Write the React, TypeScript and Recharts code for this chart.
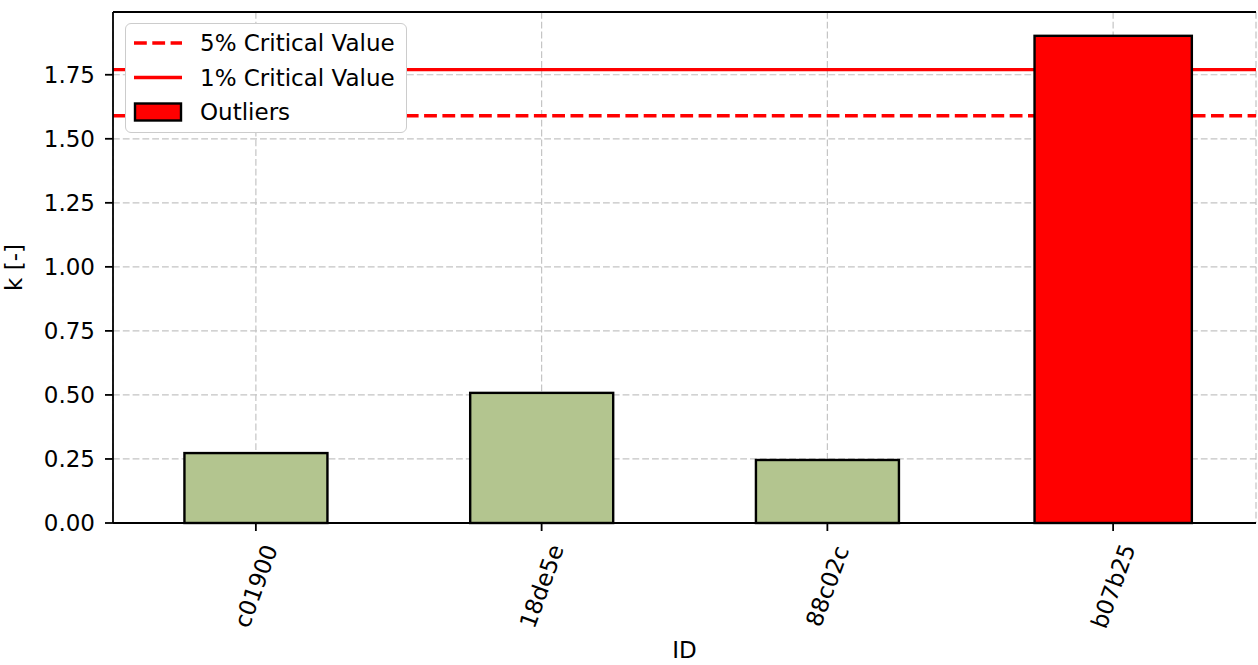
import { BarChart, Bar, XAxis, YAxis, CartesianGrid, ReferenceLine } from "recharts";

const ids = ["c01900", "18de5e", "88c02c", "b07b25"];
const kValues = [0.273, 0.508, 0.246, 1.902];
const isOutlier = [false, false, false, true];
const yTicks = [0, 0.25, 0.5, 0.75, 1.0, 1.25, 1.5, 1.75];
const yMax = 1.995;
const critical5 = 1.59;
const critical1 = 1.77;

const GREEN = "#b3c58f";
const RED = "#ff0000";
const FONT = "'DejaVu Sans', Verdana, sans-serif";
const FS = 23;

const data = ids.map((id, i) => ({ id, k: kValues[i], outlier: isOutlier[i] }));

// outliers are drawn a bit wider (0.55 vs 0.5 of the slot), like the original plot
const BarShape = (props: any) => {
  const { x, y, width, height, payload } = props;
  const w = payload.outlier ? width * 1.1 : width;
  const cx = x + width / 2;
  return (
    <rect
      x={cx - w / 2}
      y={y}
      width={w}
      height={height}
      fill={payload.outlier ? RED : GREEN}
      stroke="#000"
      strokeWidth={2.4}
    />
  );
};

const IdTick = ({ x, y, payload }: any) => {
  const label = String(payload.value);
  const w = label.length * 0.62 * FS;
  const ext = w * Math.sin((70 * Math.PI) / 180) + FS * 0.75 * Math.cos((70 * Math.PI) / 180);
  const cy = y + 6 + ext / 2;
  return (
    <text
      x={x}
      y={cy}
      transform={`rotate(-70 ${x} ${cy})`}
      textAnchor="middle"
      dominantBaseline="central"
      fill="#000"
      fontSize={FS}
      fontFamily={FONT}
    >
      {label}
    </text>
  );
};

const YLabel = ({ viewBox }: any) => {
  const cy = viewBox.y + viewBox.height / 2;
  return (
    <text x={22} y={cy} transform={`rotate(-90 22 ${cy})`} textAnchor="middle" fill="#000" fontSize={FS} fontFamily={FONT}>
      k [-]
    </text>
  );
};

const XLabel = ({ viewBox }: any) => (
  <text x={viewBox.x + viewBox.width / 2} y={658} textAnchor="middle" fill="#000" fontSize={FS} fontFamily={FONT}>
    ID
  </text>
);

const legendItems = [
  { label: "5% Critical Value", kind: "dashed" },
  { label: "1% Critical Value", kind: "solid" },
  { label: "Outliers", kind: "patch" },
];

function LegendBox() {
  return (
    <div
      style={{
        position: "absolute",
        left: 125,
        top: 23,
        width: 282,
        height: 110,
        boxSizing: "border-box",
        border: "1.8px solid #cccccc",
        borderRadius: 6,
        background: "#fff",
      }}
    >
      <svg width={280} height={108} style={{ position: "absolute", left: 0, top: 0 }}>
        {legendItems.map((item, i) => {
          const cy = 19 + i * 34.5;
          return (
            <g key={item.label}>
              {item.kind === "patch" ? (
                <rect x={9} y={cy - 8.5} width={46} height={17} fill={RED} stroke="#000" strokeWidth={2.4} />
              ) : (
                <line
                  x1={8}
                  x2={56}
                  y1={cy}
                  y2={cy}
                  stroke={RED}
                  strokeWidth={3.4}
                  strokeDasharray={item.kind === "dashed" ? "12.8 5.5" : undefined}
                />
              )}
              <text x={74} y={cy} dominantBaseline="central" fontSize={FS} fontFamily={FONT} fill="#000">
                {item.label}
              </text>
            </g>
          );
        })}
      </svg>
    </div>
  );
}

export default function App() {
  return (
    <div style={{ position: "absolute", left: 0, top: 0, width: 1258, height: 665, background: "#fff" }}>
      <BarChart
        width={1258}
        height={665}
        data={data}
        margin={{ top: 12, right: 2, left: 0, bottom: 0 }}
        barCategoryGap="25%"
      >
        <CartesianGrid stroke="#c4c4c4" strokeWidth={1.2} strokeDasharray="6.8 3" />
        <XAxis
          dataKey="id"
          height={142}
          interval={0}
          tickSize={8}
          tickMargin={6}
          tick={<IdTick />}
          tickLine={{ stroke: "#000", strokeWidth: 1.8 }}
          axisLine={{ stroke: "#000", strokeWidth: 1.8 }}
          label={<XLabel />}
        />
        <YAxis
          type="number"
          domain={[0, yMax]}
          ticks={yTicks}
          width={113}
          tickSize={8}
          tickMargin={10}
          tickFormatter={(v: number) => v.toFixed(2)}
          tick={{ fill: "#000", fontSize: FS, fontFamily: FONT }}
          tickLine={{ stroke: "#000", strokeWidth: 1.8 }}
          axisLine={{ stroke: "#000", strokeWidth: 1.8 }}
          label={<YLabel />}
        />
        <YAxis yAxisId="right" orientation="right" width={0} tick={false} tickLine={false} axisLine={{ stroke: "#000", strokeWidth: 1.8 }} />
        <ReferenceLine y={critical5} stroke={RED} strokeWidth={3.4} strokeDasharray="12.8 5.5" zIndex={-50} />
        <ReferenceLine y={critical1} stroke={RED} strokeWidth={3.4} zIndex={-50} />
        <Bar dataKey="k" shape={<BarShape />} isAnimationActive={false} />
        {/* top spine of the frame */}
        <ReferenceLine y={yMax} stroke="#000" strokeWidth={1.8} />
      </BarChart>
      <LegendBox />
    </div>
  );
}
